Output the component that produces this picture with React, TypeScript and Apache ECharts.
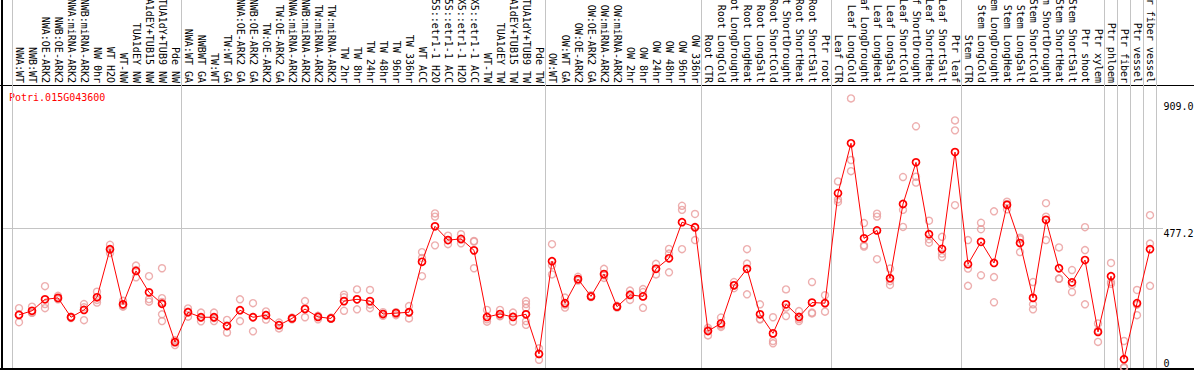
import React, { useEffect, useRef } from "react";
import * as echarts from "echarts";

const geneId = "Potri.015G043600";

const categories = [
  "NWA:WT", "NWB:WT", "NWA:OE-ARK2", "NWB:OE-ARK2", "NWA:miRNA-ARK2", "NWB:miRNA-ARK2",
  "NW 0hr", "WT H2O", "WT-NW", "TUA1dEY NW", "TUA1dEY+TUB15 NW", "TUA1dY+TUB9 NW", "Pde NW",
  "NWA:WT GA", "NWBWT GA", "TW:WT", "TW:WT GA", "NWA:OE-ARK2 GA", "NWB:OE-ARK2 GA",
  "TW:OE-ARK2", "TW:OE-ARK2 GA", "NWA:miRNA-ARK2", "NWB:miRNA-ARK2", "TW:miRNA-ARK2",
  "TW:miRNA-ARK2", "TW 2hr", "TW 8hr", "TW 24hr", "TW 48hr", "TW 96hr", "TW 336hr", "WT ACC",
  "35S::etr1-1 H2O", "35S::etr1-1 ACC", "LMX5::etr1-1 H2O", "LMX5::etr1-1 ACC", "WT-TW",
  "TUA1dEY TW", "TUA1dEY+TUB15 TW", "TUA1dY+TUB9 TW", "Pde TW",
  "OW:WT", "OW:WT GA", "OW:OE-ARK2", "OW:OE-ARK2 GA", "OW:miRNA-ARK2", "OW:miRNA-ARK2",
  "OW 2hr", "OW 8hr", "OW 24hr", "OW 48hr", "OW 96hr", "OW 336hr",
  "Root CTR", "Root LongCold", "Root LongDrought", "Root LongHeat", "Root LongSalt",
  "Root ShortCold", "Root ShortDrought", "Root ShortHeat", "Root ShortSalt", "Ptr root",
  "Leaf CTR", "Leaf LongCold", "Leaf LongDrought", "Leaf LongHeat", "Leaf LongSalt",
  "Leaf ShortCold", "Leaf ShortDrought", "Leaf ShortHeat", "Leaf ShortSalt", "Ptr leaf",
  "Stem CTR", "Stem LongCold", "Stem LongDrought", "Stem LongHeat", "Stem LongSalt",
  "Stem ShortCold", "Stem ShortDrought", "Stem ShortHeat", "Stem ShortSalt", "Ptr shoot",
  "Ptr xylem", "Ptr phloem", "Ptr fiber", "Ptr vessel", "Ptr fiber vessel",
];

const means = [
  181, 195, 234, 239, 173, 198, 241, 405, 217, 331, 258, 219, 88,
  190, 173, 173, 143, 197, 173, 180, 146, 169, 201, 174, 169, 228, 234, 228, 184, 187, 190,
  362, 483, 436, 440, 401, 174, 184, 174, 183, 48,
  364, 221, 303, 244, 320, 209, 249, 244, 338, 374, 497, 480,
  126, 152, 282, 338, 183, 118, 217, 174, 223, 221,
  596, 766, 442, 469, 306, 559, 701, 456, 406, 736,
  354, 430, 358, 556, 426, 239, 505, 340, 292, 368, 123,
  313, 30, 221, 405,
];

const replicates: number[][] = [
  [204, 156, 183], [209, 188, 189], [279, 218, 204], [246, 236, 234], [170, 175, 173],
  [218, 207, 163], [260, 232, 223], [420, 402, 392], [229, 209, 213], [349, 309, 334],
  [313, 235, 226], [340, 238, 225, 183, 160], [95, 78, 90],
  [203, 175, 192], [189, 159, 172], [189, 160, 170], [164, 121, 145], [234, 160, 197],
  [221, 125, 174], [193, 165, 181], [155, 135, 147], [172, 166, 170], [228, 173, 202],
  [166, 178, 177], [172, 168, 168], [250, 241, 195], [268, 200, 234], [266, 204, 216],
  [178, 184, 190], [180, 190, 189], [211, 169, 189], [395, 375, 313], [527, 516, 418],
  [451, 422, 436], [456, 425, 438], [433, 340, 431], [198, 158, 166], [198, 177, 177],
  [189, 158, 175], [228, 218, 205, 183, 160, 147], [67, 28, 48],
  [422, 319, 350], [240, 206, 216], [311, 298, 301], [248, 242, 243], [338, 307, 316],
  [209, 212, 206], [264, 232, 251], [269, 205, 259], [355, 319, 339], [406, 326, 390],
  [553, 539, 405], [525, 436, 478],
  [137, 111, 130], [172, 145, 140], [293, 272, 281], [405, 356, 251], [217, 166, 167],
  [173, 92, 84], [268, 177, 206], [194, 160, 167], [293, 189, 186], [248, 192, 222],
  [636, 575, 566], [919, 709, 671], [494, 418, 414], [526, 516, 371], [339, 283, 296],
  [651, 539, 481], [824, 652, 632], [502, 427, 439], [447, 390, 378], [844, 810, 555],
  [436, 339, 280], [495, 473, 316], [534, 310, 224], [567, 541, 559], [444, 395, 439],
  [293, 217, 200], [562, 516, 436], [411, 304, 305], [334, 259, 283], [480, 402, 217],
  [152, 89, 127], [358, 293, 287], [92, 3, 0], [266, 180, 216], [521, 424, 280],
];

const groupStarts = [0, 13, 41, 53, 63, 73, 84, 85, 86, 87];
const upperTickValues = [909.0, 477.2];
const zeroTickValues = [0];
const referenceLineValue = 477.2;

const MONO = '"DejaVu Sans Mono", "Liberation Mono", monospace';

export default function App() {
  const ref = useRef<HTMLDivElement>(null);

  useEffect(() => {
    document.body.style.margin = "0";
    const chart = echarts.init(ref.current!, null, { renderer: "svg" });
    const repData: number[][] = [];
    replicates.forEach((reps, i) => reps.forEach((v) => repData.push([i, v])));

    const yBase = {
      type: "value",
      min: 0,
      max: 1254.4,
      position: "right",
      axisLine: { show: false },
      axisTick: { show: false },
      splitLine: { show: false },
    };

    chart.setOption({
      animation: false,
      backgroundColor: "#ffffff",
      grid: {
        left: 12.5,
        right: 1194 - 1156.5,
        top: 0,
        bottom: 2,
        containLabel: false,
        outerBoundsMode: "none",
      },
      xAxis: {
        type: "category",
        data: categories,
        position: "top",
        offset: -86,
        boundaryGap: true,
        axisLine: { show: false, onZero: false },
        axisTick: { show: false },
        axisLabel: {
          interval: 0,
          rotate: 90,
          margin: 3,
          hideOverlap: false,
          fontFamily: MONO,
          fontSize: 10,
          color: "#000000",
        },
        splitLine: {
          show: true,
          interval: (index: number) => groupStarts.indexOf(index) >= 0,
          lineStyle: { color: "#c4c4c4", width: 1 },
        },
      },
      yAxis: [
        {
          ...yBase,
          axisLabel: {
            customValues: upperTickValues,
            formatter: (v: number) => v.toFixed(1),
            margin: 7,
            fontFamily: MONO,
            fontSize: 10,
            color: "#000000",
            verticalAlign: "top",
          },
        },
        {
          ...yBase,
          axisLabel: {
            customValues: zeroTickValues,
            formatter: (v: number) => String(v),
            margin: 7,
            fontFamily: MONO,
            fontSize: 10,
            color: "#000000",
            verticalAlign: "bottom",
          },
        },
      ],
      graphic: {
        elements: [
          { id: "frameTop", type: "rect", shape: { x: 0, y: 85, width: 1194, height: 1 }, style: { fill: "#000" }, silent: true },
          { id: "frameLeft", type: "rect", shape: { x: 1, y: 0, width: 2, height: 370 }, style: { fill: "#000" }, silent: true },
          { id: "frameBottom", type: "rect", shape: { x: 0, y: 368, width: 1194, height: 2 }, style: { fill: "#000" }, silent: true },
          {
            id: "gene",
            type: "text",
            style: { text: geneId, x: 9, y: 97, verticalAlign: "middle", font: `10px ${MONO}`, fill: "#ff0000" },
            silent: true,
          },
        ],
      },
      series: [
        {
          name: "replicates",
          type: "scatter",
          data: repData,
          symbol: "circle",
          symbolSize: 7,
          itemStyle: { color: "rgba(0,0,0,0)", borderColor: "#e89a9a", borderWidth: 1.4 },
          z: 3,
        },
        {
          name: "mean",
          type: "line",
          data: means,
          symbol: "circle",
          symbolSize: 7,
          showSymbol: true,
          showAllSymbol: true,
          lineStyle: { color: "#ff0000", width: 1 },
          itemStyle: { color: "rgba(0,0,0,0)", borderColor: "#ff0000", borderWidth: 1.7 },
          z: 4,
        },
      ],
    });

    const yRef = chart.convertToPixel({ yAxisIndex: 0 }, referenceLineValue) as number;
    chart.setOption({
      graphic: {
        elements: [
          {
            id: "refLine",
            type: "line",
            shape: { x1: 1, y1: Math.round(yRef) + 0.5, x2: 1163, y2: Math.round(yRef) + 0.5 },
            style: { stroke: "#c4c4c4", lineWidth: 1 },
            silent: true,
            z: -1,
          },
        ],
      },
    });

    return () => chart.dispose();
  }, []);

  return <div ref={ref} style={{ width: 1194, height: 370 }} />;
}
